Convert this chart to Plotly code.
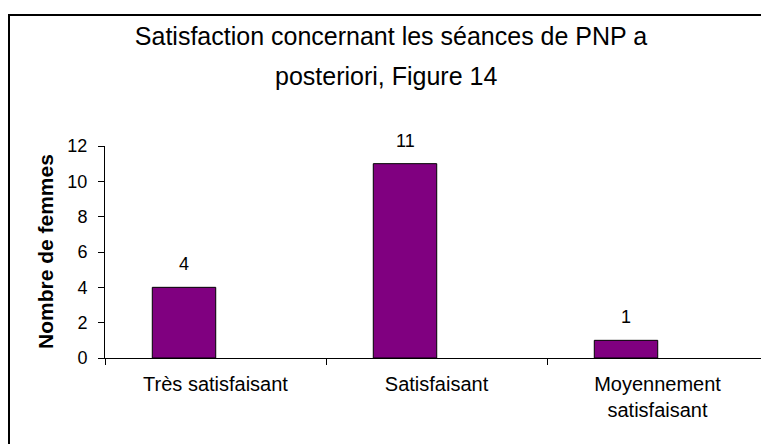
import plotly.graph_objects as go

categories = ["Très satisfaisant", "Satisfaisant", "Moyennement<br>satisfaisant"]
values = [4, 11, 1]
y_ticks = [0, 2, 4, 6, 8, 10, 12]
title_line1 = "Satisfaction concernant les séances de PNP a"
title_line2 = "posteriori, Figure 14"
y_title = "Nombre de femmes"

# page body has an 8px margin; figure coordinates = screen - 8
W, H = 761, 436
ML, MR, MT, MB = 97, 1, 138, 86
PW, PH = W - ML - MR, H - MT - MB

FONT = "Liberation Sans, Arial, sans-serif"

fig = go.Figure()
fig.add_trace(go.Bar(
    x=categories, y=values,
    width=0.287, offset=-0.286,
    marker=dict(color="#800080", line=dict(color="black", width=1)),
    hoverinfo="skip",
))

for c, v in zip(categories, values):
    fig.add_annotation(x=c, y=v, text=str(v), showarrow=False,
                       yanchor="middle", xanchor="center", xshift=-0.1425 * PW / 3,
                       yshift=23, font=dict(family=FONT, size=18, color="black"))

fig.add_annotation(xref="paper", yref="paper", x=(37 - ML) / PW, y=0.5,
                   text="<b>" + y_title + "</b>", textangle=-90, showarrow=False,
                   xanchor="center", yanchor="middle",
                   font=dict(family=FONT, size=21, color="black"))

# second title line
fig.add_annotation(xref="paper", yref="paper", x=(378 - ML) / PW, y=(H - 68 - MB) / PH,
                   text=title_line2, showarrow=False, xanchor="center", yanchor="middle",
                   font=dict(family=FONT, size=25, color="black"))

# outer chart border (only top and left visible in the crop)
fig.add_shape(type="rect", xref="paper", yref="paper",
              x0=(1 - ML) / PW, x1=(W + 20 - ML) / PW,
              y0=-(MB + 20) / PH, y1=(H - 7 - MB) / PH,
              line=dict(color="black", width=2), layer="below")

fig.update_layout(
    width=W, height=H,
    margin=dict(l=ML, r=MR, t=MT, b=MB),
    paper_bgcolor="white", plot_bgcolor="white",
    showlegend=False,
    title=dict(text=title_line1, x=383 / W, xanchor="center", y=1 - 28 / H, yanchor="middle",
               font=dict(family=FONT, size=25, color="black")),
    xaxis=dict(range=[-0.5, 2.5], showline=True, linecolor="black", linewidth=1,
               ticks="outside", tickson="boundaries", ticklen=6, tickcolor="black",
               ticklabelstandoff=8,
               tickfont=dict(family=FONT, size=20, color="black"), showgrid=False,
               zeroline=False, fixedrange=True),
    yaxis=dict(range=[0, 12], tickvals=y_ticks, showline=True, linecolor="black", linewidth=1,
               ticks="outside", ticklen=6, tickcolor="black", ticklabelstandoff=7,
               tickfont=dict(family=FONT, size=18, color="black"), showgrid=False,
               zeroline=False, fixedrange=True),
)

fig.write_html("out.html")
